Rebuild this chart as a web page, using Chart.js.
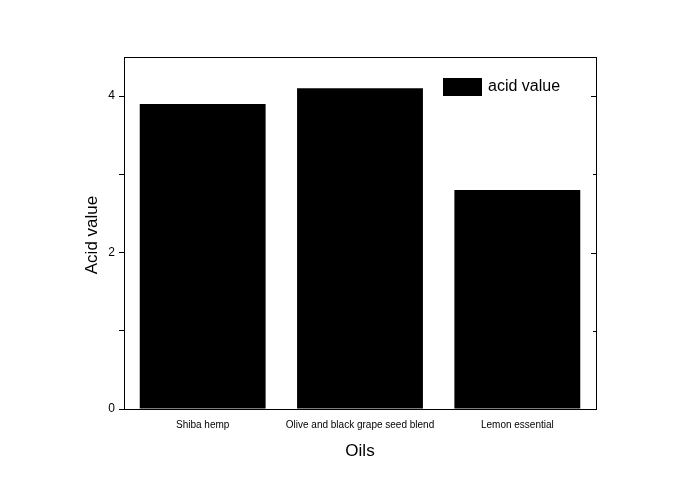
<!DOCTYPE html>
<html><head><meta charset="utf-8">
<script src="https://cdn.jsdelivr.net/npm/chart.js@4"></script>
<style>html,body{margin:0;padding:0;background:#fff}</style>
</head><body>
<canvas id="c" width="693" height="491" style="width:693px;height:491px"></canvas>
<script>
const categories = ["Shiba hemp", "Olive and black grape seed blend", "Lemon essential"];
const acidValues = [3.9, 4.1, 2.8];
const seriesName = "acid value";
const xTitle = "Oils";
const yTitle = "Acid value";

const framePlugin = {
  id: 'frame',
  afterDraw(chart) {
    const {ctx, chartArea: a, scales: {y}} = chart;
    ctx.save();
    ctx.strokeStyle = '#000'; ctx.lineWidth = 1;
    ctx.strokeRect(a.left + 0.5, a.top + 0.5, a.right - a.left, a.bottom - a.top);
    for (let v = 0; v <= 4; v++) {
      const py = Math.round(y.getPixelForValue(v)) + 0.5;
      const len = v % 2 === 0 ? 5 : 3;
      ctx.beginPath(); ctx.moveTo(a.right, py); ctx.lineTo(a.right - len, py); ctx.stroke();
    }
    ctx.fillStyle = '#000';
    ctx.fillRect(443, 78, 39, 18);
    ctx.font = '16px "Liberation Sans", Arial, sans-serif';
    ctx.textBaseline = 'middle';
    ctx.textAlign = 'left';
    ctx.fillText(seriesName, 488, 87);
    ctx.font = '17px "Liberation Sans", Arial, sans-serif';
    ctx.textAlign = 'center';
    ctx.fillText(xTitle, (a.left + a.right) / 2, 451);
    ctx.translate(92, (a.top + a.bottom) / 2 + 2);
    ctx.rotate(-Math.PI / 2);
    ctx.fillText(yTitle, 0, 0);
    ctx.restore();
  }
};

new Chart(document.getElementById('c'), {
  type: 'bar',
  data: { labels: categories, datasets: [{ label: seriesName, data: acidValues, backgroundColor: '#000', borderWidth: 0, categoryPercentage: 1, barPercentage: 0.8 }] },
  options: {
    responsive: false, animation: false,
    layout: { padding: { left: 0, right: 97, top: 57, bottom: 0 } },
    plugins: { legend: { display: false }, tooltip: { enabled: false } },
    scales: {
      x: {
        grid: { drawOnChartArea: false, tickLength: 0, color: '#000' },
        border: { color: '#000' },
        ticks: { color: '#000', font: { size: 10, family: '"Liberation Sans", Arial' }, padding: 10, maxRotation: 0 },
        afterFit(s) { s.height = 82; }
      },
      y: {
        min: 0, max: 4.5,
        afterBuildTicks(s) { s.ticks = s.ticks.filter(t => t.value <= 4); },
        grid: { drawOnChartArea: false, tickLength: 5, color: '#000', tickWidth: 1 },
        border: { color: '#000' },
        ticks: { stepSize: 1, color: '#000', font: { size: 12, family: '"Liberation Sans", Arial' }, padding: 4,
          callback: v => (v % 2 === 0 ? String(v) : '') },
        afterFit(s) { s.width = 124; }
      }
    }
  },
  plugins: [framePlugin]
});
</script>
</body></html>
